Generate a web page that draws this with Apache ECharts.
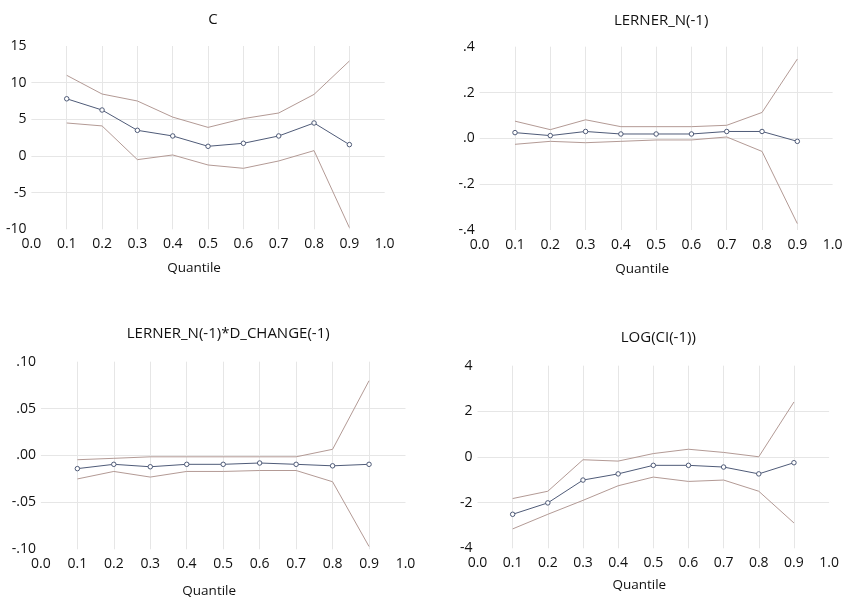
<!DOCTYPE html>
<html>
<head>
<meta charset="utf-8">
<script src="https://cdn.jsdelivr.net/npm/echarts@6/dist/echarts.min.js"></script>
<style>
  html, body { margin: 0; padding: 0; background: #fff; }
  #chart { width: 849px; height: 603px; }
</style>
</head>
<body>
<div id="chart"></div>
<script>
// quantile process estimates, coefficient with +/- 2 s.e. bands
var quantiles = [0.1, 0.2, 0.3, 0.4, 0.5, 0.6, 0.7, 0.8, 0.9];
var titles = ['C', 'LERNER_N(-1)', 'LERNER_N(-1)*D_CHANGE(-1)', 'LOG(CI(-1))'];

var cCoef  = [7.8, 6.27, 3.5, 2.73, 1.32, 1.73, 2.73, 4.5, 1.55];
var cUpper = [11.0, 8.45, 7.5, 5.3, 3.9, 5.1, 5.86, 8.4, 12.95];
var cLower = [4.5, 4.1, -0.5, 0.14, -1.23, -1.68, -0.68, 0.73, -9.77];

var lnCoef  = [0.025, 0.012, 0.030, 0.019, 0.019, 0.019, 0.030, 0.030, -0.013];
var lnUpper = [0.075, 0.038, 0.081, 0.051, 0.051, 0.051, 0.057, 0.113, 0.346];
var lnLower = [-0.026, -0.013, -0.019, -0.013, -0.007, -0.007, 0.006, -0.057, -0.372];

var ldCoef  = [-0.014, -0.0094, -0.012, -0.0094, -0.0094, -0.008, -0.0094, -0.011, -0.0094];
var ldUpper = [-0.0045, -0.003, -0.0014, -0.0014, -0.0014, -0.0014, -0.0014, 0.0066, 0.0797];
var ldLower = [-0.025, -0.017, -0.023, -0.017, -0.017, -0.016, -0.016, -0.028, -0.097];

var ciCoef  = [-2.51, -2.01, -1.01, -0.74, -0.365, -0.365, -0.44, -0.74, -0.25];
var ciUpper = [-1.82, -1.50, -0.12, -0.18, 0.15, 0.34, 0.2, 0.01, 2.41];
var ciLower = [-3.15, -2.51, -1.9, -1.26, -0.88, -1.07, -1.01, -1.50, -2.89];

var yMin      = [-10, -0.4, -0.1, -4];
var yMax      = [15, 0.4, 0.1, 4];
var yInterval = [5, 0.2, 0.05, 2];
var yDecimals = [0, 1, 2, 0];

var panels = [
    [cCoef, cUpper, cLower],
    [lnCoef, lnUpper, lnLower],
    [ldCoef, ldUpper, ldLower],
    [ciCoef, ciUpper, ciLower]
];

// pixel boxes of the four plots
var boxes = [
    { left: 31.4, top: 46,    width: 353.3, height: 183.3, titleTop: 7,   gap: 32 },
    { left: 479.7, top: 46.7, width: 352.9, height: 183.3, titleTop: 8,   gap: 32 },
    { left: 40.9, top: 361.7, width: 364.6, height: 187.6, titleTop: 321, gap: 35 },
    { left: 477.5, top: 365.7, width: 351.6, height: 182.6, titleTop: 325, gap: 30 }
];

var bandColor = '#b39a95';
var coefColor = '#4f5b78';
var gridColor = '#e6e6e6';
var font = '"Open Sans", "Noto Sans", sans-serif';

function pairs(vals) {
    return vals.map(function (v, i) { return [quantiles[i], v]; });
}

function yLabel(dec) {
    return function (v) {
        var s = Math.abs(v) < 1e-9 ? (0).toFixed(dec) : v.toFixed(dec);
        if (dec > 0) s = s.replace('0.', '.');
        return s;
    };
}

var grids = [], xAxes = [], yAxes = [], series = [], ttl = [];
var xSplit = ['rgba(0,0,0,0)'];
for (var k = 0; k < 9; k++) xSplit.push(gridColor);
xSplit.push('rgba(0,0,0,0)');

boxes.forEach(function (b, i) {
    grids.push({ left: b.left, top: b.top, width: b.width, height: b.height });
    ttl.push({
        text: titles[i],
        left: b.left + b.width / 2,
        textAlign: 'center',
        top: b.titleTop,
        textStyle: { fontFamily: font, fontWeight: 'normal', fontSize: 15, color: '#111' }
    });
    var nY = Math.round((yMax[i] - yMin[i]) / yInterval[i]) + 1;
    var ySplit = [];
    for (var j = 0; j < nY; j++) ySplit.push(j == 0 || j == nY - 1 ? 'rgba(0,0,0,0)' : gridColor);
    xAxes.push({
        type: 'value', gridIndex: i, min: 0, max: 1, interval: 0.1,
        name: 'Quantile', nameLocation: 'middle', nameGap: b.gap,
        nameTextStyle: { fontFamily: font, fontSize: 13.5, color: '#111', padding: [0, 28, 0, 0] },
        axisLine: { show: false }, axisTick: { show: false },
        axisLabel: { fontFamily: font, fontSize: 14, color: '#111', margin: 8,
            formatter: function (v) { return v.toFixed(1); } },
        splitLine: { show: true, lineStyle: { color: xSplit, width: 1 } }
    });
    yAxes.push({
        type: 'value', gridIndex: i, min: yMin[i], max: yMax[i], interval: yInterval[i],
        axisLine: { show: false }, axisTick: { show: false },
        axisLabel: { fontFamily: font, fontSize: 14, color: '#111', margin: 5,
            formatter: yLabel(yDecimals[i]) },
        splitLine: { show: true, lineStyle: { color: ySplit, width: 1 } }
    });
    var p = panels[i];
    series.push({
        type: 'line', xAxisIndex: i, yAxisIndex: i, data: pairs(p[1]),
        symbol: 'none', lineStyle: { color: bandColor, width: 1 }, silent: true
    });
    series.push({
        type: 'line', xAxisIndex: i, yAxisIndex: i, data: pairs(p[2]),
        symbol: 'none', lineStyle: { color: bandColor, width: 1 }, silent: true
    });
    series.push({
        type: 'line', xAxisIndex: i, yAxisIndex: i, data: pairs(p[0]),
        symbol: 'circle', symbolSize: 4.5, showAllSymbol: true,
        itemStyle: { color: '#fff', borderColor: coefColor, borderWidth: 1 },
        lineStyle: { color: coefColor, width: 1 }, silent: true
    });
});

var chart = echarts.init(document.getElementById('chart'));
chart.setOption({
    animation: false,
    backgroundColor: '#fff',
    title: ttl,
    grid: grids,
    xAxis: xAxes,
    yAxis: yAxes,
    series: series
});
</script>
</body>
</html>
